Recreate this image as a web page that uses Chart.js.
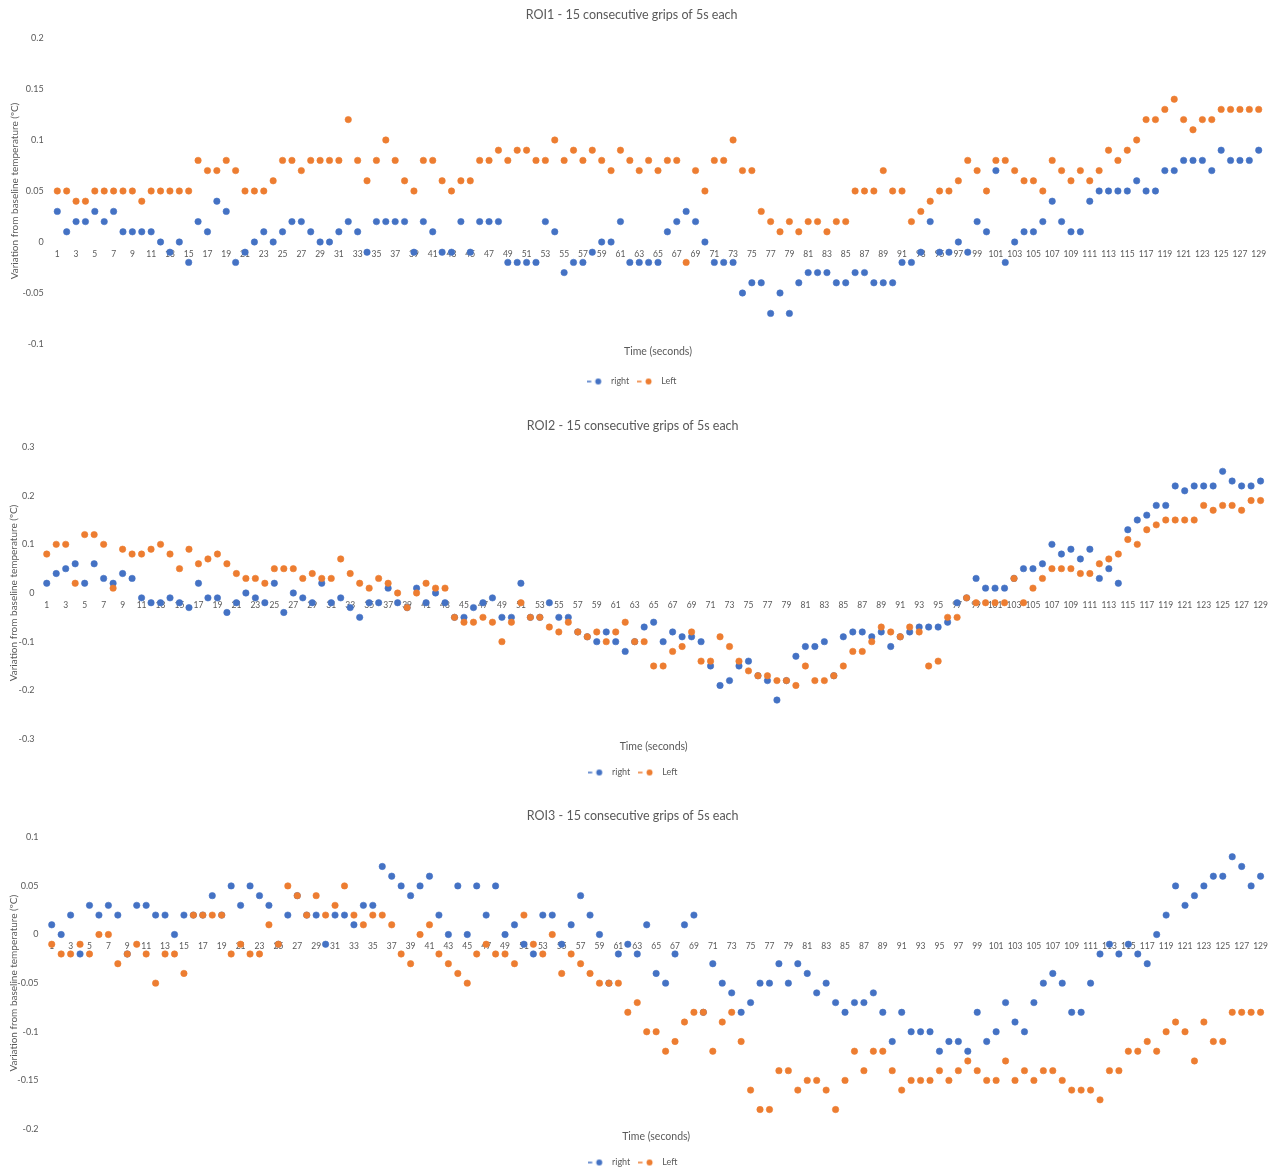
<!DOCTYPE html>
<html>
<head>
<meta charset="utf-8">
<script src="https://cdn.jsdelivr.net/npm/chart.js@4.4.1/dist/chart.umd.min.js"></script>
<style>
  html, body { margin: 0; padding: 0; background: #fff; overflow: hidden; }
  body { width: 1275px; height: 1169px; position: relative; }
  .box { position: absolute; left: 0; width: 1275px; }
</style>
</head>
<body>
<div class="box" style="top:0;height:396px"><canvas id="roi1"></canvas></div>
<div class="box" style="top:390px;height:397px"><canvas id="roi2"></canvas></div>
<div class="box" style="top:780px;height:397px"><canvas id="roi3"></canvas></div>
<script>
// ================== DADOS ==================
const categories = Array.from({ length: 129 }, (_, i) => String(i + 1));

const right1 = [
  0.03, 0.01, 0.02, 0.02, 0.03, 0.02, 0.03, 0.01, 0.01, 0.01,
  0.01, 0, -0.01, 0, -0.02, 0.02, 0.01, 0.04, 0.03, -0.02,
  -0.01, 0, 0.01, 0, 0.01, 0.02, 0.02, 0.01, 0, 0,
  0.01, 0.02, 0.01, -0.01, 0.02, 0.02, 0.02, 0.02, -0.01, 0.02,
  0.01, -0.01, -0.01, 0.02, -0.01, 0.02, 0.02, 0.02, -0.02, -0.02,
  -0.02, -0.02, 0.02, 0.01, -0.03, -0.02, -0.02, -0.01, 0, 0,
  0.02, -0.02, -0.02, -0.02, -0.02, 0.01, 0.02, 0.03, 0.02, 0,
  -0.02, -0.02, -0.02, -0.05, -0.04, -0.04, -0.07, -0.05, -0.07, -0.04,
  -0.03, -0.03, -0.03, -0.04, -0.04, -0.03, -0.03, -0.04, -0.04, -0.04,
  -0.02, -0.02, -0.01, 0.02, -0.01, -0.01, 0, -0.01, 0.02, 0.01,
  0.07, -0.02, 0, 0.01, 0.01, 0.02, 0.04, 0.02, 0.01, 0.01,
  0.04, 0.05, 0.05, 0.05, 0.05, 0.06, 0.05, 0.05, 0.07, 0.07,
  0.08, 0.08, 0.08, 0.07, 0.09, 0.08, 0.08, 0.08, 0.09,
];
const left1 = [
  0.05, 0.05, 0.04, 0.04, 0.05, 0.05, 0.05, 0.05, 0.05, 0.04,
  0.05, 0.05, 0.05, 0.05, 0.05, 0.08, 0.07, 0.07, 0.08, 0.07,
  0.05, 0.05, 0.05, 0.06, 0.08, 0.08, 0.07, 0.08, 0.08, 0.08,
  0.08, 0.12, 0.08, 0.06, 0.08, 0.1, 0.08, 0.06, 0.05, 0.08,
  0.08, 0.06, 0.05, 0.06, 0.06, 0.08, 0.08, 0.09, 0.08, 0.09,
  0.09, 0.08, 0.08, 0.1, 0.08, 0.09, 0.08, 0.09, 0.08, 0.07,
  0.09, 0.08, 0.07, 0.08, 0.07, 0.08, 0.08, -0.02, 0.07, 0.05,
  0.08, 0.08, 0.1, 0.07, 0.07, 0.03, 0.02, 0.01, 0.02, 0.01,
  0.02, 0.02, 0.01, 0.02, 0.02, 0.05, 0.05, 0.05, 0.07, 0.05,
  0.05, 0.02, 0.03, 0.04, 0.05, 0.05, 0.06, 0.08, 0.07, 0.05,
  0.08, 0.08, 0.07, 0.06, 0.06, 0.05, 0.08, 0.07, 0.06, 0.07,
  0.06, 0.07, 0.09, 0.08, 0.09, 0.1, 0.12, 0.12, 0.13, 0.14,
  0.12, 0.11, 0.12, 0.12, 0.13, 0.13, 0.13, 0.13, 0.13,
];

const right2 = [
  0.02, 0.04, 0.05, 0.06, 0.02, 0.06, 0.03, 0.02, 0.04, 0.03,
  -0.01, -0.02, -0.02, -0.01, -0.02, -0.03, 0.02, -0.01, -0.01, -0.04,
  -0.02, 0, -0.01, -0.02, 0.02, -0.04, 0, -0.01, -0.02, 0.02,
  -0.02, -0.01, -0.03, -0.05, -0.02, -0.02, 0.01, -0.02, -0.03, 0.01,
  -0.02, 0, -0.02, -0.05, -0.05, -0.03, -0.02, -0.01, -0.05, -0.05,
  0.02, -0.05, -0.05, -0.02, -0.05, -0.05, -0.08, -0.09, -0.1, -0.08,
  -0.1, -0.12, -0.1, -0.07, -0.06, -0.1, -0.08, -0.09, -0.09, -0.1,
  -0.15, -0.19, -0.18, -0.15, -0.14, -0.17, -0.18, -0.22, -0.18, -0.13,
  -0.11, -0.11, -0.1, -0.17, -0.09, -0.08, -0.08, -0.09, -0.08, -0.11,
  -0.09, -0.08, -0.07, -0.07, -0.07, -0.06, -0.02, -0.01, 0.03, 0.01,
  0.01, 0.01, 0.03, 0.05, 0.05, 0.06, 0.1, 0.08, 0.09, 0.07,
  0.09, 0.03, 0.05, 0.02, 0.13, 0.15, 0.16, 0.18, 0.18, 0.22,
  0.21, 0.22, 0.22, 0.22, 0.25, 0.23, 0.22, 0.22, 0.23,
];
const left2 = [
  0.08, 0.1, 0.1, 0.02, 0.12, 0.12, 0.1, 0.01, 0.09, 0.08,
  0.08, 0.09, 0.1, 0.08, 0.05, 0.09, 0.06, 0.07, 0.08, 0.06,
  0.04, 0.03, 0.03, 0.02, 0.05, 0.05, 0.05, 0.03, 0.04, 0.03,
  0.03, 0.07, 0.04, 0.02, 0.01, 0.03, 0.02, 0, -0.03, 0,
  0.02, 0.01, 0.01, -0.05, -0.06, -0.06, -0.05, -0.06, -0.1, -0.06,
  -0.02, -0.05, -0.05, -0.07, -0.08, -0.06, -0.08, -0.09, -0.08, -0.1,
  -0.08, -0.06, -0.1, -0.1, -0.15, -0.15, -0.12, -0.11, -0.08, -0.14,
  -0.14, -0.09, -0.11, -0.14, -0.16, -0.17, -0.17, -0.18, -0.18, -0.19,
  -0.15, -0.18, -0.18, -0.17, -0.15, -0.12, -0.12, -0.1, -0.07, -0.08,
  -0.09, -0.07, -0.08, -0.15, -0.14, -0.05, -0.05, -0.01, -0.02, -0.02,
  -0.02, -0.02, 0.03, -0.02, 0.01, 0.03, 0.05, 0.05, 0.05, 0.04,
  0.04, 0.06, 0.07, 0.08, 0.11, 0.1, 0.13, 0.14, 0.15, 0.15,
  0.15, 0.15, 0.18, 0.17, 0.18, 0.18, 0.17, 0.19, 0.19,
];

const right3 = [
  0.01, 0, 0.02, -0.02, 0.03, 0.02, 0.03, 0.02, -0.02, 0.03,
  0.03, 0.02, 0.02, 0, 0.02, 0.02, 0.02, 0.04, 0.02, 0.05,
  0.03, 0.05, 0.04, 0.03, -0.01, 0.02, 0.04, 0.02, 0.02, -0.01,
  0.02, 0.02, 0.01, 0.03, 0.03, 0.07, 0.06, 0.05, 0.04, 0.05,
  0.06, 0.02, 0, 0.05, 0, 0.05, 0.02, 0.05, 0, 0.01,
  -0.01, -0.02, 0.02, 0.02, -0.01, 0.01, 0.04, 0.02, 0, -0.05,
  -0.02, -0.01, -0.02, 0.01, -0.04, -0.05, -0.02, 0.01, 0.02, -0.08,
  -0.03, -0.05, -0.06, -0.08, -0.07, -0.05, -0.05, -0.03, -0.05, -0.03,
  -0.04, -0.06, -0.05, -0.07, -0.08, -0.07, -0.07, -0.06, -0.08, -0.11,
  -0.08, -0.1, -0.1, -0.1, -0.12, -0.11, -0.11, -0.12, -0.08, -0.11,
  -0.1, -0.07, -0.09, -0.1, -0.07, -0.05, -0.04, -0.05, -0.08, -0.08,
  -0.05, -0.02, -0.01, -0.02, -0.01, -0.02, -0.03, 0, 0.02, 0.05,
  0.03, 0.04, 0.05, 0.06, 0.06, 0.08, 0.07, 0.05, 0.06,
];
const left3 = [
  -0.01, -0.02, -0.02, -0.01, -0.02, 0, 0, -0.03, -0.02, -0.01,
  -0.02, -0.05, -0.02, -0.02, -0.04, 0.02, 0.02, 0.02, 0.02, -0.02,
  -0.01, -0.02, -0.02, 0.01, -0.01, 0.05, 0.04, 0.02, 0.04, 0.02,
  0.03, 0.05, 0.02, 0.01, 0.02, 0.02, 0.01, -0.02, -0.03, 0,
  0.01, -0.02, -0.03, -0.04, -0.05, -0.02, -0.01, -0.02, -0.02, -0.03,
  0.02, -0.01, -0.02, 0, -0.04, -0.02, -0.03, -0.04, -0.05, -0.05,
  -0.05, -0.08, -0.07, -0.1, -0.1, -0.12, -0.11, -0.09, -0.08, -0.08,
  -0.12, -0.09, -0.08, -0.11, -0.16, -0.18, -0.18, -0.14, -0.14, -0.16,
  -0.15, -0.15, -0.16, -0.18, -0.15, -0.12, -0.14, -0.12, -0.12, -0.14,
  -0.16, -0.15, -0.15, -0.15, -0.14, -0.15, -0.14, -0.13, -0.14, -0.15,
  -0.15, -0.13, -0.15, -0.14, -0.15, -0.14, -0.14, -0.15, -0.16, -0.16,
  -0.16, -0.17, -0.14, -0.14, -0.12, -0.12, -0.11, -0.12, -0.1, -0.09,
  -0.1, -0.13, -0.09, -0.11, -0.11, -0.08, -0.08, -0.08, -0.08,
];

const yTicks1 = [-0.1, -0.05, 0, 0.05, 0.1, 0.15, 0.2];
const yTicks2 = [-0.3, -0.2, -0.1, 0, 0.1, 0.2, 0.3];
const yTicks3 = [-0.2, -0.15, -0.1, -0.05, 0, 0.05, 0.1];

const seriesNames = ["right", "Left"];
const chartTitles = [
  "ROI1 - 15 consecutive grips of 5s each",
  "ROI2 - 15 consecutive grips of 5s each",
  "ROI3 - 15 consecutive grips of 5s each",
];
const xTitle = "Time (seconds)";
const yTitle = "Variation from baseline temperature (ºC)";

// ================== ESTILO ==================
const AZUL = "#4472C4";
const LARANJA = "#ED7D31";
const CINZA = "#595959";
const FONTE = "Lato, 'Open Sans', sans-serif";

// icone da legenda: tracinho + bolinha (igual ao Excel)
function iconeLegenda(cor) {
  const c = document.createElement("canvas");
  c.width = 20;
  c.height = 8;
  const g = c.getContext("2d");
  g.fillStyle = cor;
  g.fillRect(0, 3.3, 4.5, 1.5);
  g.beginPath();
  g.arc(11.5, 4, 3, 0, Math.PI * 2);
  g.fill();
  return c;
}
const icones = [iconeLegenda(AZUL), iconeLegenda(LARANJA)];

// ajustes de layout de cada grafico (posicao da area de plotagem)
const graficos = [
  { id: "roi1", right: right1, left: left1, ticks: yTicks1, title: chartTitles[0],
    padRight: 11.6, yWidth: 52.6, tickPad: 9, yTitleTop: 9,
    titlePad: { top: 7.5, bottom: 15.5 }, subPad: { top: 1.7, bottom: 10.7 } },
  { id: "roi2", right: right2, left: left2, ticks: yTicks2, title: chartTitles[1],
    padRight: 9.6, yWidth: 42, tickPad: 7.5, yTitleTop: 7.5,
    titlePad: { top: 28.5, bottom: 13.5 }, subPad: { top: 1.7, bottom: 6.7 } },
  { id: "roi3", right: right3, left: left3, ticks: yTicks3, title: chartTitles[2],
    padRight: 9.6, yWidth: 47, tickPad: 8.5, yTitleTop: 7.5,
    titlePad: { top: 28.5, bottom: 13.8 }, subPad: { top: 1.7, bottom: 6.7 } },
];

function serie(label, data, cor, ordem) {
  return {
    label,
    data,
    showLine: false,
    borderColor: cor,
    backgroundColor: cor,
    pointRadius: 3.2,
    pointHoverRadius: 3.2,
    pointBorderWidth: 0.6,
    pointBackgroundColor: cor,
    pointBorderColor: cor,
    order: ordem,
  };
}

graficos.forEach((g) => {
  const ctx = document.getElementById(g.id);
  new Chart(ctx, {
    type: "line",
    data: {
      labels: categories,
      datasets: [
        serie(seriesNames[0], g.right, AZUL, 1),
        serie(seriesNames[1], g.left, LARANJA, 0),
      ],
    },
    options: {
      responsive: true,
      maintainAspectRatio: false,
      animation: false,
      devicePixelRatio: 1,
      layout: { padding: { left: 0, right: g.padRight, top: 0, bottom: 0 } },
      scales: {
        x: {
          type: "category",
          offset: true,
          position: { y: 0 },
          grid: { display: false, drawTicks: false },
          border: { display: false },
          ticks: {
            autoSkip: false,
            maxRotation: 0,
            minRotation: 0,
            padding: 7,
            color: CINZA,
            font: { family: FONTE, size: 8.5 },
            callback: function (v, i) {
              return i % 2 === 0 ? this.getLabelForValue(v) : "";
            },
          },
        },
        y: {
          type: "linear",
          min: g.ticks[0],
          max: g.ticks[g.ticks.length - 1],
          grid: { display: false, drawTicks: false },
          border: { display: false },
          afterBuildTicks: (s) => {
            s.ticks = g.ticks.map((v) => ({ value: v }));
          },
          afterFit: (s) => {
            s.width = g.yWidth;
          },
          ticks: {
            padding: g.tickPad,
            color: CINZA,
            font: { family: FONTE, size: 9 },
            callback: (v) => String(+Number(v).toFixed(2)),
          },
          title: {
            display: true,
            text: yTitle,
            color: CINZA,
            font: { family: FONTE, size: 10 },
            padding: { top: g.yTitleTop, bottom: 0 },
          },
        },
      },
      plugins: {
        tooltip: { enabled: false },
        title: {
          display: true,
          text: g.title,
          color: CINZA,
          font: { family: FONTE, size: 12.5, weight: "normal" },
          padding: g.titlePad,
        },
        // titulo do eixo x centralizado na area de plotagem (como no Excel)
        subtitle: {
          display: true,
          position: "bottom",
          fullSize: false,
          weight: 500,
          text: xTitle,
          color: CINZA,
          font: { family: FONTE, size: 10.5, weight: "normal" },
          padding: g.subPad,
        },
        legend: {
          position: "bottom",
          labels: {
            usePointStyle: true,
            pointStyleWidth: 19.5,
            padding: 8,
            color: CINZA,
            font: { family: FONTE, size: 9 },
            sort: (a, b) => a.datasetIndex - b.datasetIndex,
            generateLabels: (chart) =>
              Chart.defaults.plugins.legend.labels
                .generateLabels(chart)
                .map((item) => ({ ...item, pointStyle: icones[item.datasetIndex] })),
          },
        },
      },
    },
  });
});
</script>
</body>
</html>
